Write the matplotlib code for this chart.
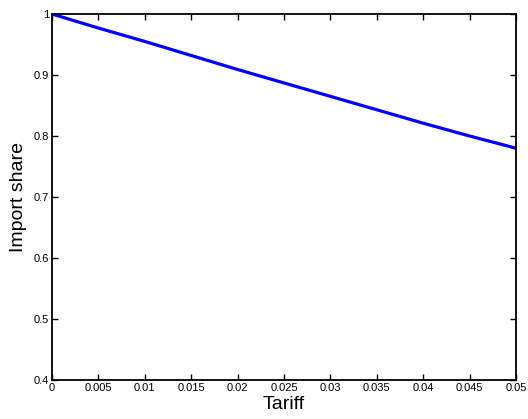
import numpy as np
import matplotlib
matplotlib.use("Agg")
import matplotlib.pyplot as plt

plt.rcParams['font.family'] = ['Liberation Sans', 'DejaVu Sans']

# tariff vs import share
tariff = [0.0, 0.005, 0.01, 0.015, 0.02, 0.025, 0.03, 0.035, 0.04, 0.045, 0.05]
import_share = [1.0, 0.977, 0.955, 0.932, 0.909, 0.887, 0.865, 0.843, 0.821, 0.800, 0.780]

xticks = [0, 0.005, 0.01, 0.015, 0.02, 0.025, 0.03, 0.035, 0.04, 0.045, 0.05]
xticklabels = ['0', '0.005', '0.01', '0.015', '0.02', '0.025', '0.03', '0.035', '0.04', '0.045', '0.05']
yticks = [0.4, 0.5, 0.6, 0.7, 0.8, 0.9, 1.0]
yticklabels = ['0.4', '0.5', '0.6', '0.7', '0.8', '0.9', '1']

fig = plt.figure(figsize=(5.28, 4.19), dpi=100)
ax = fig.add_axes([52 / 528, 1 - 380 / 419, (516 - 52) / 528, (380 - 14) / 419])

ax.plot(tariff, import_share, color='#0000ff', linewidth=2.3)

ax.set_xlim(0, 0.05)
ax.set_ylim(0.4, 1)
ax.set_xticks(xticks)
ax.set_xticklabels(xticklabels)
ax.set_yticks(yticks)
ax.set_yticklabels(yticklabels)
ax.tick_params(direction='in', length=4, width=1, labelsize=8, top=True, right=True, pad=2)
for s in ax.spines.values():
    s.set_linewidth(1.3)

ax.set_xlabel('Tariff', fontsize=14, labelpad=2)
ax.set_ylabel('Import share', fontsize=14, labelpad=5)

fig.savefig('out.png', dpi=100)
